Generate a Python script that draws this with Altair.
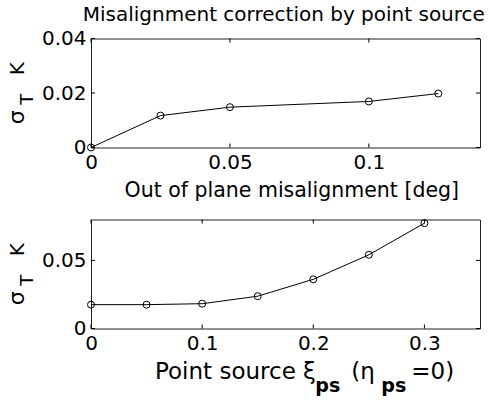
import altair as alt
import pandas as pd

# Upper panel: residual error versus out-of-plane misalignment
mis_deg = [0, 0.025, 0.05, 0.1, 0.125]
mis_sigma = [0.0, 0.0117, 0.0148, 0.0169, 0.0198]
mis_xticks = [0, 0.05, 0.1]
mis_yticks = [0, 0.02, 0.04]

# Lower panel: residual error versus point-source position
xi_ps = [0, 0.05, 0.1, 0.15, 0.2, 0.25, 0.3]
xi_sigma = [0.0175, 0.0175, 0.0182, 0.0237, 0.0361, 0.0541, 0.0773]
xi_xticks = [0, 0.1, 0.2, 0.3]
xi_yticks = [0, 0.05]

W, H = 389, 109
FONT = "DejaVu Sans"
TICK = 4


def label(text, x, y, size=20, angle=0, align="left", weight="normal"):
    return alt.Chart(pd.DataFrame({"t": [text]})).mark_text(
        align=align, baseline="alphabetic", font=FONT, fontSize=size,
        fontWeight=weight, color="black", angle=angle,
    ).encode(text="t:N", x=alt.value(x), y=alt.value(y))


def panel(xs, ys, xdom, ydom, xticks, yticks):
    df = pd.DataFrame({"x": xs, "y": ys})
    xsc = alt.Scale(domain=xdom, nice=False, zero=False)
    ysc = alt.Scale(domain=ydom, nice=False, zero=False)
    xax = alt.Axis(values=xticks, format="~g", title=None, labelPadding=5)
    yax = alt.Axis(values=yticks, format="~g", title=None, labelPadding=5)
    base = alt.Chart(df)
    line = base.mark_line(color="black", strokeWidth=1).encode(
        x=alt.X("x:Q", scale=xsc, axis=xax),
        y=alt.Y("y:Q", scale=ysc, axis=yax),
        order="x:Q",
    )
    pts = base.mark_point(shape="circle", size=49, color="black",
                          filled=False, strokeWidth=1, opacity=1).encode(
        x=alt.X("x:Q", scale=xsc, axis=xax),
        y=alt.Y("y:Q", scale=ysc, axis=yax),
    )
    # inward tick marks on all four sides of the box
    xt = alt.Chart(pd.DataFrame({"v": xticks})).mark_rule(color="black", strokeWidth=1)
    yt = alt.Chart(pd.DataFrame({"v": yticks})).mark_rule(color="black", strokeWidth=1)
    xb = xt.encode(x=alt.X("v:Q", scale=xsc, axis=xax), y=alt.value(H), y2=alt.value(H - TICK))
    xtop = xt.encode(x=alt.X("v:Q", scale=xsc, axis=xax), y=alt.value(0), y2=alt.value(TICK))
    yl = yt.encode(y=alt.Y("v:Q", scale=ysc, axis=yax), x=alt.value(0), x2=alt.value(TICK))
    yr = yt.encode(y=alt.Y("v:Q", scale=ysc, axis=yax), x=alt.value(W), x2=alt.value(W - TICK))
    # rotated y title: sigma with subscript T, then the unit K
    ytitle = [
        label("σ", -67, 78.7, size=22, angle=270, align="center"),
        label("T", -58.2, 60.7, size=18, angle=270, align="center"),
        label("K", -67, 30.2, size=20, angle=270, align="center"),
    ]
    return [line, pts, xb, xtop, yl, yr] + ytitle


top_layers = panel(mis_deg, mis_sigma, [0, 0.14], [0, 0.04], mis_xticks, mis_yticks)
top_layers += [
    label("Misalignment correction by point source", 192.8, -17.6, size=20, align="center"),
    label("Out of plane misalignment [deg]", 200.8, 158.4, size=20.5, align="center"),
]
top = alt.layer(*top_layers).properties(width=W, height=H)

bot_layers = panel(xi_ps, xi_sigma, [0, 0.35], [0, 0.08], xi_xticks, xi_yticks)
bot_layers += [
    label("Point source ξ", 64, 159, size=23),
    label("ps", 224.3, 172, size=19, weight="bold"),
    label("(η", 260.3, 159, size=23),
    label("ps", 290.3, 172, size=19, weight="bold"),
    label("=0)", 320.3, 159, size=23),
]
bottom = alt.layer(*bot_layers).properties(width=W, height=H)

chart = alt.vconcat(top, bottom, spacing=14).properties(
    padding={"left": 5, "top": 3.5, "right": 0, "bottom": 0},
    background="white",
).configure_view(
    stroke="#222", strokeWidth=1
).configure_axis(
    grid=False, ticks=False, domain=False,
    labelFont=FONT, labelFontSize=20, labelColor="black",
    labelFlush=False, labelOverlap=False,
)

chart.save("out.html", embed_options={"renderer": "svg", "actions": False})
